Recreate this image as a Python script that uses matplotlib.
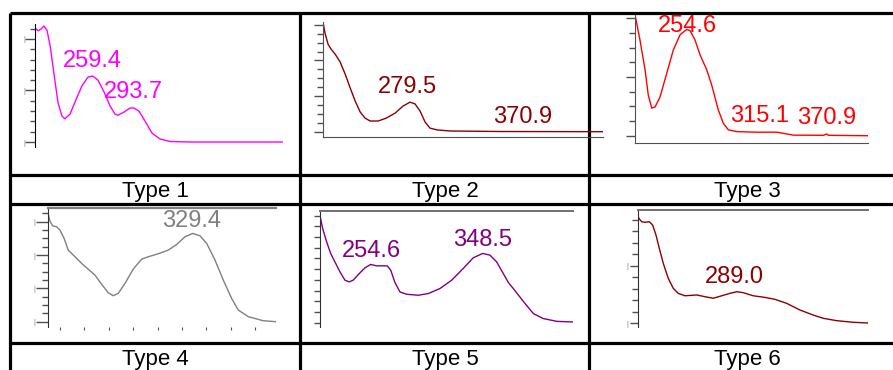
import matplotlib.pyplot as plt
from matplotlib.ticker import MultipleLocator, FixedLocator, NullFormatter

plt.rcParams['font.family'] = ['Liberation Sans', 'DejaVu Sans']

# ---- data: wavelength (nm) and absorbance ----
t1_nm = [211, 213.5, 216, 218.5, 221, 223.6, 227, 230.3, 233.6, 236, 240.3, 245.3, 250.3, 255.4,
         259.4, 263.7, 268.8, 273.8, 278, 280.5, 285.5, 290.5, 293.7, 298, 303, 309, 315.6, 324,
         340.7, 419]
t1_abs = [2.21, 2.16, 2.19, 2.25, 2.17, 1.88, 1.30, 0.76, 0.50, 0.45, 0.54, 0.82, 1.09, 1.26,
          1.28, 1.20, 0.97, 0.70, 0.54, 0.52, 0.58, 0.66, 0.66, 0.60, 0.41, 0.17, 0.06, 0.01,
          0.0, 0.0]

t2_nm = [210.3, 211.9, 214.3, 216.7, 219.9, 223.9, 227.9, 231.9, 235.9, 239.9, 243.8, 247.8,
         254.2, 260.5, 267.6, 274, 279.5, 283.5, 287.5, 291.5, 295.4, 301, 311.3, 351, 433]
t2_abs = [3.08, 2.77, 2.46, 2.32, 2.18, 1.96, 1.62, 1.23, 0.86, 0.55, 0.38, 0.30,
          0.30, 0.38, 0.52, 0.72, 0.83, 0.78, 0.58, 0.27, 0.10, 0.05, 0.02, 0.005, 0.0]

t3_nm = [209.9, 214.1, 218.4, 221.1, 224.0, 226.8, 231.0, 236.6, 242.2, 247.9, 253.5, 256.3,
         260.5, 264.7, 270.4, 274.6, 280.1, 284.4, 288.6, 295.7, 312.5, 329.4, 343.4, 368.7,
         371.5, 372.9, 406.1]
t3_abs = [2.06, 1.63, 1.12, 0.69, 0.47, 0.49, 0.66, 1.06, 1.46, 1.72, 1.81, 1.79,
          1.63, 1.38, 1.12, 0.86, 0.44, 0.21, 0.10, 0.07, 0.06, 0.06, 0.01, 0.007,
          0.03, 0.007, 0.0]

t4_nm = [210.4, 211.8, 214.0, 217.3, 220.0, 223.3, 226.8, 232.3, 237.8, 244.0, 248.7, 254.2,
         259.6, 263.7, 267.8, 273.3, 280.1, 287.0, 292.4, 300.6, 308.8, 315.7, 322.5, 328.8,
         334.8, 340.3, 347.1, 353.9, 360.7, 366.2, 374.4, 386.6, 397.1]
t4_abs = [3.23, 3.02, 2.88, 2.85, 2.75, 2.51, 2.15, 1.95, 1.75, 1.55, 1.40, 1.12,
          0.87, 0.78, 0.85, 1.15, 1.58, 1.88, 1.95, 2.04, 2.15, 2.32, 2.55, 2.65,
          2.58, 2.35, 1.85, 1.25, 0.70, 0.35, 0.15, 0.03, 0.0]

t5_nm = [211.5, 213.7, 217.1, 220.5, 224.1, 228.4, 232.6, 236.2, 239.6, 243.9, 249.5, 254.3,
         259.4, 265.0, 268.4, 271.3, 274.9, 279.1, 284.8, 294.6, 303.1, 313.0, 322.9, 332.7,
         341.1, 349.1, 355.3, 360.9, 366.5, 370.8, 375.0, 383.4, 392.0, 400.4, 411.7, 425.2]
t5_abs = [1.000, 0.882, 0.756, 0.647, 0.568, 0.475, 0.397, 0.381, 0.397, 0.450, 0.512, 0.544,
          0.531, 0.531, 0.531, 0.491, 0.375, 0.287, 0.265, 0.256, 0.272, 0.319, 0.397, 0.507,
          0.606, 0.647, 0.631, 0.568, 0.460, 0.375, 0.319, 0.200, 0.084, 0.038, 0.012, 0.006]

t6_nm = [206.0, 207.4, 209.4, 212.1, 215.8, 218.6, 221.4, 224.2, 227.5, 231.7, 235.9, 240.1,
         245.7, 255.6, 262.5, 269.5, 276.6, 283.5, 289.2, 294.7, 303.1, 312.9, 321.3, 331.2,
         342.3, 353.5, 361.9, 373.2, 387.1, 399.2]
t6_abs = [0.937, 0.909, 0.885, 0.880, 0.885, 0.856, 0.769, 0.653, 0.523, 0.392, 0.305, 0.261,
          0.240, 0.247, 0.232, 0.218, 0.240, 0.261, 0.275, 0.267, 0.240, 0.226, 0.209, 0.174,
          0.116, 0.072, 0.044, 0.023, 0.009, 0.003]

type_names = ['Type 1', 'Type 2', 'Type 3', 'Type 4', 'Type 5', 'Type 6']
peaks1 = ['259.4', '293.7']
peaks2 = ['279.5', '370.9']
peaks3 = ['254.6', '315.1', '370.9']
peaks4 = ['329.4']
peaks5 = ['254.6', '348.5']
peaks6 = ['289.0']

W, H = 893, 370
fig = plt.figure(figsize=(W / 100, H / 100), dpi=100)

# background axes in pixel units for the table grid
bg = fig.add_axes([0, 0, 1, 1])
bg.set_xlim(0, W)
bg.set_ylim(H, 0)
bg.axis('off')
for y in [13, 175, 204, 343]:
    bg.plot([10, W], [y, y], color='black', lw=2.3, solid_capstyle='butt')
for x in [10, 300, 589]:
    bg.plot([x, x], [13, H], color='black', lw=2.3, solid_capstyle='butt')
label_x = [155, 445, 747]
for i, name in enumerate(type_names):
    bg.text(label_x[i % 3], 197 if i < 3 else 365, name, ha='center', va='baseline',
            fontsize=16, color='black')


def panel(box, xlim, ylim):
    l, t, r, b = box
    ax = fig.add_axes([l / W, 1 - b / H, (r - l) / W, (b - t) / H])
    ax.set_xlim(xlim)
    ax.set_ylim(ylim)
    ax.patch.set_alpha(0)
    for s in ax.spines.values():
        s.set_visible(False)
    ax.set_xticks([])
    ax.tick_params(axis='y', which='both', left=True, labelleft=False, color='#505050', width=1)
    return ax


def caps(ax, ticks, pad):
    # clipped tick labels in the original show as small grey bars
    ax.yaxis.set_major_locator(FixedLocator(ticks))
    ax.set_yticklabels(['|'] * len(ticks))
    ax.tick_params(axis='y', which='major', labelleft=True, labelsize=5, labelcolor='#808080', pad=pad)


# Type 1
ax = panel((35, 24, 283, 147), (211, 418.6), (-0.097, 2.29))
ax.spines['left'].set_visible(True)
ax.spines['left'].set_color('black')
ax.yaxis.set_minor_locator(MultipleLocator(0.2))
caps(ax, [0, 1, 2], 0)
ax.tick_params(axis='y', which='major', length=7)
ax.tick_params(axis='y', which='minor', length=3.6)
ax.plot(t1_nm, t1_abs, color='#ff00ff', lw=1)
ax.text(234.4, 1.45, peaks1[0], color='#ff00ff', fontsize=17)
ax.text(268.8, 0.86, peaks1[1], color='#ff00ff', fontsize=17)

# Type 2
ax = panel((323, 22, 603, 137), (210.3, 433), (-0.149, 3.08))
for s in ['left', 'bottom']:
    ax.spines[s].set_visible(True)
    ax.spines[s].set_color('#505050')
ax.yaxis.set_major_locator(MultipleLocator(1))
ax.yaxis.set_minor_locator(MultipleLocator(0.25))
ax.tick_params(axis='y', which='major', length=6.5)
ax.tick_params(axis='y', which='minor', length=4.5)
ax.plot(t2_nm, t2_abs, color='#8b0000', lw=1)
ax.text(254.1, 1.10, peaks2[0], color='#8b0000', fontsize=17)
ax.text(345.5, 0.25, peaks2[1], color='#8b0000', fontsize=17)

# Type 3
ax = panel((635, 15, 868, 143), (209.9, 406.3), (-0.124, 2.056))
for s in ['left', 'bottom']:
    ax.spines[s].set_visible(True)
    ax.spines[s].set_color('#505050')
ax.yaxis.set_major_locator(MultipleLocator(1))
ax.yaxis.set_minor_locator(MultipleLocator(0.25))
ax.tick_params(axis='y', which='major', length=6.5)
ax.tick_params(axis='y', which='minor', length=4)
ax.plot(t3_nm, t3_abs, color='#ff0000', lw=1)
ax.text(229.3, 1.77, peaks3[0], color='#ff0000', fontsize=17, clip_on=False)
ax.text(290.0, 0.23, peaks3[1], color='#ff0000', fontsize=17)
ax.text(346.5, 0.20, peaks3[2], color='#ff0000', fontsize=17)

# Type 4
ax = panel((48, 208, 276, 327), (210.2, 397.1), (-0.159, 3.414))
ax.spines['left'].set_visible(True)
ax.spines['left'].set_color('#303030')
ax.spines['top'].set_visible(True)
ax.spines['top'].set_color('#808080')
ax.spines['top'].set_linewidth(1.6)
ax.yaxis.set_minor_locator(MultipleLocator(0.25))
caps(ax, [0, 1, 2, 3], 0)
ax.tick_params(axis='y', which='major', length=9)
ax.tick_params(axis='y', which='minor', length=4.5)
ax.set_xticks(list(range(220, 400, 20)))
ax.tick_params(axis='x', bottom=True, labelbottom=False, length=2.5, color='#505050')
ax.plot(t4_nm, t4_abs, color='#808080', lw=1)
ax.text(303.6, 2.85, peaks4[0], color='#808080', fontsize=17)

# Type 5
ax = panel((320, 211, 573, 327), (211.5, 425.5), (-0.041, 1.044))
ax.spines['left'].set_visible(True)
ax.spines['left'].set_color('#303030')
ax.spines['top'].set_visible(True)
ax.spines['top'].set_color('#707070')
ax.spines['top'].set_linewidth(1.4)
ax.yaxis.set_major_locator(MultipleLocator(0.1))
ax.tick_params(axis='y', which='major', length=4)
ax.plot(t5_nm, t5_abs, color='#800080', lw=1)
ax.text(230.1, 0.615, peaks5[0], color='#800080', fontsize=17)
ax.text(324.0, 0.719, peaks5[1], color='#800080', fontsize=17)

# Type 6
ax = panel((638, 210, 868, 327), (206.3, 399.5), (-0.032, 0.987))
ax.spines['left'].set_visible(True)
ax.spines['left'].set_color('#303030')
ax.spines['top'].set_visible(True)
ax.spines['top'].set_color('#707070')
ax.spines['top'].set_linewidth(1.4)
ax.yaxis.set_minor_locator(MultipleLocator(0.1))
caps(ax, [0, 0.5], 1)
ax.tick_params(axis='y', which='major', length=6)
ax.tick_params(axis='y', which='minor', length=4.5)
ax.plot(t6_nm, t6_abs, color='#8b0000', lw=1)
ax.text(262.5, 0.348, peaks6[0], color='#8b0000', fontsize=17)

fig.savefig('out.png', dpi=100)
